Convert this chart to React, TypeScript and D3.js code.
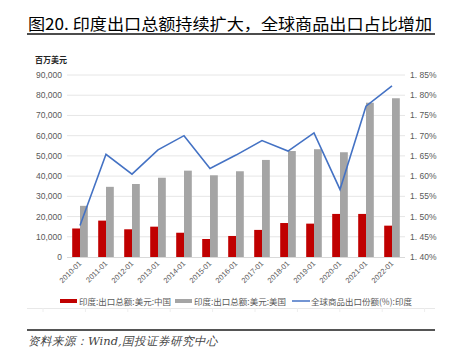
import React from "react";
import * as d3 from "d3";

const categories = ["2010-01","2011-01","2012-01","2013-01","2014-01","2015-01","2016-01","2017-01","2018-01","2019-01","2020-01","2021-01","2022-01"];
const chinaExports = [14100, 18000, 13700, 15000, 12000, 8900, 10400, 13400, 16800, 16500, 21300, 21300, 15500];
const usExports = [25300, 34700, 36100, 39200, 42700, 40400, 42400, 48000, 52400, 53300, 51800, 76300, 78500];
const worldShare = [1.478, 1.654, 1.605, 1.665, 1.700, 1.619, 1.652, 1.688, 1.662, 1.707, 1.567, 1.773, 1.823];
const leftTicks = [0, 10000, 20000, 30000, 40000, 50000, 60000, 70000, 80000, 90000];
const rightTicks = [1.40, 1.45, 1.50, 1.55, 1.60, 1.65, 1.70, 1.75, 1.80, 1.85];
const legendItems = ["印度:出口总额:美元:中国", "印度:出口总额:美元:美国", "全球商品出口份额(%):印度"];

const W = 449, H = 362;
const plot = { left: 67, right: 405, top: 75, bottom: 257 };

export default function App() {
  const x = d3.scaleBand().domain(categories).range([plot.left, plot.right]).paddingInner(0.4).paddingOuter(0.2);
  const y = d3.scaleLinear().domain([0, 90000]).range([plot.bottom, plot.top]);
  const y2 = d3.scaleLinear().domain([1.40, 1.85]).range([plot.bottom, plot.top]);
  const bw = x.bandwidth() / 2;
  const fmt = d3.format(",");
  const line = d3.line<number>().x((_, i) => (x(categories[i]) as number) + x.bandwidth() / 2).y(d => y2(d));
  const font = "'Liberation Sans', Arial, 'Noto Sans CJK SC', sans-serif";
  const cjk = "'Noto Sans CJK SC', sans-serif";
  const legendX = [60, 175, 292];
  return (
    <svg width={W} height={H} style={{ position: "absolute", left: 0, top: 0, background: "#fff" }}>
      <text x={28} y={30} fontSize={16} fontFamily={cjk} fontWeight={400} fill="#000" textLength={404} lengthAdjust="spacingAndGlyphs">图20. 印度出口总额持续扩大，全球商品出口占比增加</text>
      <line x1={27} x2={435} y1={34} y2={34} stroke="#111" strokeWidth={1.5} />
      <text x={35} y={63} fontSize={8} fontFamily={cjk} fontWeight={700} fill="#222">百万美元</text>
      {leftTicks.map(t => (
        <g key={t}>
          {t > 0 && <line x1={plot.left} x2={plot.right} y1={y(t)} y2={y(t)} stroke="#e6e6e6" strokeWidth={1} />}
          <text x={62} y={y(t)} dy="0.35em" textAnchor="end" fontSize={8.5} fontFamily={font} fill="#595959">{fmt(t)}</text>
        </g>
      ))}
      <line x1={plot.left} x2={plot.right} y1={plot.bottom + 0.5} y2={plot.bottom + 0.5} stroke="#d9d9d9" />
      {rightTicks.map(t => (
        <text key={t} x={410} y={y2(t)} dy="0.35em" fontSize={8.5} fontFamily={font} fill="#595959">{t.toFixed(2).replace(".", ". ")}%</text>
      ))}
      {categories.map((c, i) => {
        const x0 = x(c) as number;
        return (
          <g key={c}>
            <rect x={x0} y={y(chinaExports[i])} width={bw} height={plot.bottom - y(chinaExports[i])} fill="#c00000" />
            <rect x={x0 + bw} y={y(usExports[i])} width={bw} height={plot.bottom - y(usExports[i])} fill="#a5a5a5" />
            <text transform={`translate(${x0 + x.bandwidth() / 2 + 2},${plot.bottom + 7}) rotate(-45)`} textAnchor="end" fontSize={7.5} fontFamily={font} fill="#595959">{c}</text>
          </g>
        );
      })}
      <path d={line(worldShare) || ""} fill="none" stroke="#4472c4" strokeWidth={1.6} />
      {legendItems.map((l, i) => (
        <g key={l}>
          {i < 2 ? (
            <rect x={legendX[i]} y={299} width={17} height={4} fill={i === 0 ? "#c00000" : "#a5a5a5"} />
          ) : (
            <line x1={legendX[i]} x2={legendX[i] + 18} y1={301} y2={301} stroke="#4472c4" strokeWidth={1.5} />
          )}
          <text x={legendX[i] + 19} y={304.5} fontSize={8.5} fontFamily={cjk} fill="#595959">{l}</text>
        </g>
      ))}
      <line x1={27} x2={435} y1={308.5} y2={308.5} stroke="#e8e8e8" />
      {d3.range(10).map(i => (
        <line key={i} x1={43 + i * 42.4} x2={43 + i * 42.4} y1={308} y2={312} stroke="#eeeeee" />
      ))}
      <line x1={27} x2={435} y1={330} y2={330} stroke="#555" strokeWidth={2} />
      <text x={28} y={345} fontSize={11.5} fontFamily="'DejaVu Serif', serif" fontStyle="italic" fill="#444">资料来源：Wind,国投证券研究中心</text>
    </svg>
  );
}
